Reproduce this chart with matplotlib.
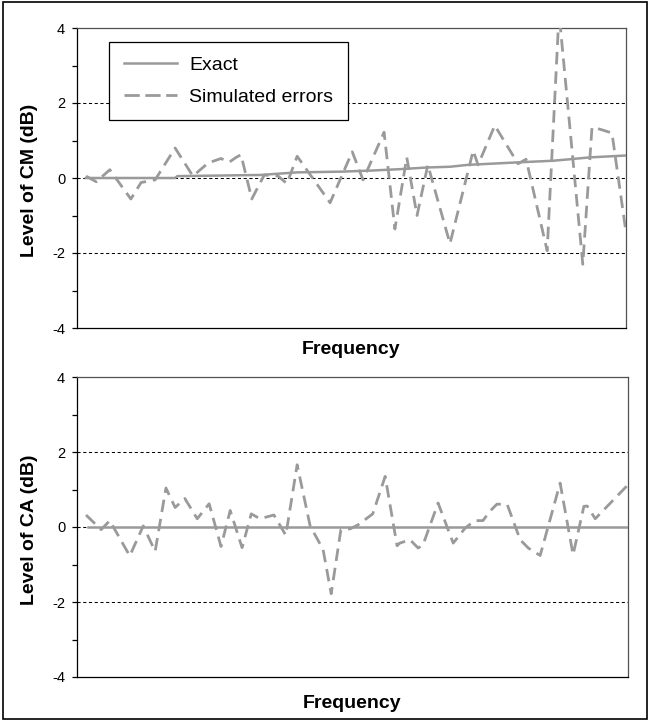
import matplotlib
matplotlib.use("Agg")
import matplotlib.pyplot as plt
import numpy as np
from matplotlib.lines import Line2D
from matplotlib.patches import Rectangle

plt.rcParams['font.family'] = ['Liberation Sans', 'DejaVu Sans']

# frequency positions are in arbitrary units (axis is unlabeled), 0..100
cm_exact_f = [0, 16.5, 16.9, 32.2, 39.1, 47.4, 53.1, 58.7, 63.1, 67.4, 70.7, 80.4, 86.5, 89.6, 93.3, 100]
cm_exact = [0, 0, 0.05, 0.08, 0.15, 0.17, 0.2, 0.24, 0.28, 0.3, 0.35, 0.42, 0.46, 0.5, 0.55, 0.6]

cm_sim_f = [0, 1.9, 4.4, 8.3, 10.2, 12.8, 16.5, 19.8, 22.6, 25.0, 26.5, 27.8, 28.7, 30.7,
            33.0, 35.6, 37.2, 39.1, 45.2, 49.3, 51.3, 55.2, 57.2, 59.4, 61.3, 63.3, 67.4,
            71.7, 72.6, 75.7, 80.0, 81.5, 85.4, 87.6, 92.0, 93.7, 95.2, 97.4, 100]
cm_sim = [0.05, -0.1, 0.22, -0.56, -0.12, -0.05, 0.8, 0.05, 0.4, 0.52, 0.42, 0.55, 0.62, -0.56,
          0.08, 0.05, -0.15, 0.58, -0.66, 0.7, -0.05, 1.22, -1.36, 0.55, -1.0, 0.35, -1.75,
          0.73, 0.35, 1.4, 0.38, 0.5, -1.94, 4.4, -2.3, 1.35, 1.3, 1.2, -1.45]

ca_exact_f = [0.4, 100.4]
ca_exact = [0, 0]

ca_sim_f = [0, 2.8, 4.4, 8.1, 10.6, 12.8, 14.8, 16.5, 18.3, 20.6, 22.8, 25.0, 26.7, 28.9,
            30.6, 32.2, 34.8, 37.0, 39.1, 41.5, 43.9, 45.4, 47.2, 48.9, 50.4, 53.1, 55.4,
            57.6, 58.1, 60.0, 61.5, 62.4, 65.2, 68.0, 70.2, 72.0, 73.5, 74.8, 76.1, 78.0,
            80.4, 81.9, 84.1, 87.8, 90.2, 92.2, 92.8, 94.3, 100.2]
ca_sim = [0.32, -0.07, 0.17, -0.77, 0.03, -0.65, 1.04, 0.52, 0.76, 0.22, 0.62, -0.52, 0.44, -0.55,
          0.35, 0.22, 0.32, -0.22, 1.66, 0.03, -0.6, -1.78, -0.07, -0.05, 0.06, 0.35, 1.35,
          -0.5, -0.43, -0.34, -0.56, -0.48, 0.64, -0.43, -0.03, 0.17, 0.17, 0.42, 0.61, 0.6,
          -0.34, -0.56, -0.76, 1.17, -0.74, 0.55, 0.56, 0.22, 1.1]

yticks = [-4, -2, 0, 2, 4]
grid_levels = [-2, 0, 2]

line_col = '#9a9a9a'
sim_dash = (4.5, 2.5)

fig = plt.figure(figsize=(6.5, 7.21), dpi=100)
ax1 = fig.add_axes([77/650, 1-328/721, 549/650, 300/721])
ax2 = fig.add_axes([77/650, 1-677/721, 551/650, 300/721])


def style(ax, xmax):
    ax.set_ylim(-4, 4)
    ax.set_xlim(-1.67, xmax)
    for g in grid_levels:
        ax.axhline(g, color='black', lw=0.75, ls=(0, (3, 2.5)), zorder=1)
    ax.set_yticks(yticks)
    ax.set_yticklabels([str(t) for t in yticks])
    ax.set_yticks([-3, -1, 1, 3], minor=True)
    ax.tick_params(axis='y', which='both', direction='out', length=3.5, width=0.9,
                   labelsize=10.5, pad=5)
    ax.tick_params(axis='x', length=0, labelbottom=False)
    ax.set_xticks([])
    ax.spines['left'].set_color('black')
    ax.spines['bottom'].set_color('black')
    ax.spines['top'].set_color('#505050')
    ax.spines['right'].set_color('#505050')
    for s in ax.spines.values():
        s.set_linewidth(0.9)


style(ax1, 100)
style(ax2, 100.37)

ax1.plot(cm_exact_f, cm_exact, color=line_col, lw=1.8, zorder=3)
ax1.plot(cm_sim_f, cm_sim, color=line_col, lw=2.0, dashes=sim_dash, zorder=3)
ax2.plot(ca_exact_f, ca_exact, color=line_col, lw=1.8, zorder=3)
ax2.plot(ca_sim_f, ca_sim, color=line_col, lw=2.0, dashes=sim_dash, zorder=3)

handles = [Line2D([], [], color=line_col, lw=1.8),
           Line2D([], [], color=line_col, lw=2.0, dashes=(5.5, 2.0))]
leg = ax1.legend(handles, ['Exact', 'Simulated errors'], loc='upper left',
                 bbox_to_anchor=(0.0583, 0.953), borderaxespad=0, fontsize=14,
                 fancybox=False, framealpha=1, edgecolor='black', handlelength=2.75,
                 handletextpad=0.62, borderpad=0.75, labelspacing=0.72)
leg.get_frame().set_linewidth(0.9)

fig.text(351.5/650, 1-349/721, 'Frequency', ha='center', va='center', fontsize=14, fontweight='bold')
fig.text(352.5/650, 1-703/721, 'Frequency', ha='center', va='center', fontsize=14, fontweight='bold')
fig.text(30/650, 1-180/721, 'Level of CM (dB)', rotation=90, ha='center', va='center',
         fontsize=14, fontweight='bold')
fig.text(30/650, 1-530/721, 'Level of CA (dB)', rotation=90, ha='center', va='center',
         fontsize=14, fontweight='bold')

fig.patches.append(Rectangle((0.004, 0.003), 0.992, 0.994, transform=fig.transFigure,
                             fill=False, lw=1.2, edgecolor='black'))

fig.savefig('out.png', dpi=100)
